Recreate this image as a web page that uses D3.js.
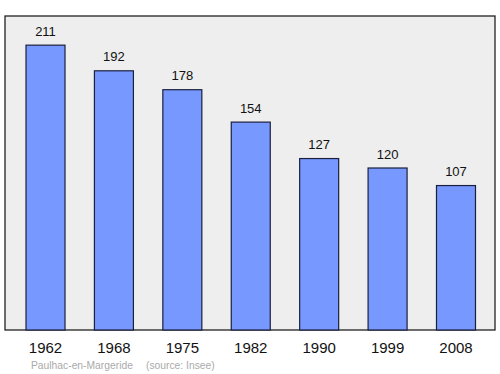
<!DOCTYPE html>
<html>
<head>
<meta charset="utf-8">
<script src="https://cdn.jsdelivr.net/npm/d3@7"></script>
<style>
  body { margin: 0; background: #fff; }
  text { font-family: "Liberation Sans", Arial, sans-serif; }
</style>
</head>
<body>
<div id="chart"></div>
<script>
const years = ["1962", "1968", "1975", "1982", "1990", "1999", "2008"];
const population = [211, 192, 178, 154, 127, 120, 107];
const commune = "Paulhac-en-Margeride";
const source = "(source: Insee)";

const width = 500, height = 374;
const frame = { left: 5, right: 495, top: 16, bottom: 330 };

const svg = d3.select("#chart").append("svg")
    .attr("width", width)
    .attr("height", height);

// plot background
svg.append("rect")
    .attr("x", frame.left)
    .attr("y", frame.top)
    .attr("width", frame.right - frame.left)
    .attr("height", frame.bottom - frame.top)
    .attr("fill", "#eeeeee")
    .attr("stroke", "#222")
    .attr("stroke-width", 1.3);

const x = d3.scaleBand()
    .domain(years)
    .range([11.3, 490.2])
    .paddingInner(0.43)
    .paddingOuter(0.215);

const y = d3.scaleLinear()
    .domain([0, 232.6])
    .range([frame.bottom, frame.top]);

const data = years.map((yr, i) => ({ year: yr, value: population[i] }));

svg.selectAll("rect.bar")
    .data(data)
    .enter().append("rect")
    .attr("class", "bar")
    .attr("x", d => x(d.year))
    .attr("y", d => y(d.value))
    .attr("width", x.bandwidth())
    .attr("height", d => y(0) - y(d.value))
    .attr("fill", "#7799ff")
    .attr("stroke", "#1a1f3d")
    .attr("stroke-width", 1.2);

// value labels
svg.selectAll("text.val")
    .data(data)
    .enter().append("text")
    .attr("class", "val")
    .attr("x", d => x(d.year) + x.bandwidth() / 2)
    .attr("y", d => y(d.value) - 9.5)
    .attr("text-anchor", "middle")
    .attr("font-size", 13)
    .attr("fill", "#111")
    .text(d => d.value);

// year axis
const axis = svg.append("g")
    .attr("transform", `translate(0,${frame.bottom})`)
    .call(d3.axisBottom(x).tickSize(0).tickPadding(12.5));
axis.select(".domain").remove();
axis.selectAll("text")
    .attr("font-size", 15)
    .attr("fill", "#111")
    .style("font-family", '"Liberation Sans", Arial, sans-serif');

// footer
svg.append("text")
    .attr("x", 31)
    .attr("y", 368.5)
    .attr("font-size", 10.3)
    .attr("fill", "#aaaaaa")
    .text(commune);
svg.append("text")
    .attr("x", 146)
    .attr("y", 368.5)
    .attr("font-size", 10.3)
    .attr("fill", "#aaaaaa")
    .text(source);
</script>
</body>
</html>
